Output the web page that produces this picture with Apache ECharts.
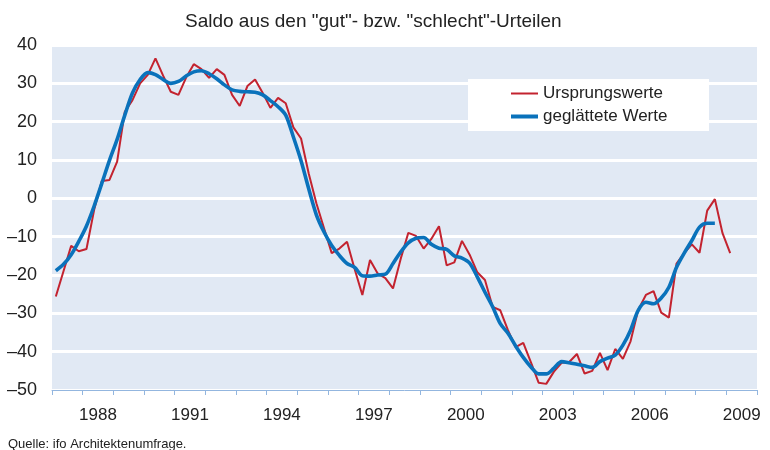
<!DOCTYPE html>
<html>
<head>
<meta charset="utf-8">
<script src="https://cdn.jsdelivr.net/npm/echarts@6/dist/echarts.min.js"></script>
<style>html,body{margin:0;padding:0;background:#fff;}#c{width:770px;height:450px;}</style>
</head>
<body>
<div id="c"></div>
<script>
// Years on the category axis (visual ticks and labels)
const years = ['1987','1988','1989','1990','1991','1992','1993','1994','1995','1996','1997','1998','1999','2000','2001','2002','2003','2004','2005','2006','2007','2008','2009'];
const firstYear = 1987;
// Quarterly values starting with 1987 Q1
const ursprungswerte = [
 -25.6, -19, -12.4, -13.8, -13.2, -3, 4.5, 4.8, 9.6, 22.6, 25.6, 30, 32.2, 36.5, 32, 27.8,
 27, 31.5, 35, 33.7, 31.4, 33.7, 32.2, 27, 24.1, 29.3, 31, 27.5, 23.6, 26.2, 24.8, 18.5,
 15.6, 6.5, -1.3, -7.8, -14.3, -13.1, -11.3, -18.5, -25.2, -16.1, -19.6, -20.8, -23.5, -15.8, -9, -9.8,
 -13.1, -10.6, -7.3, -17.5, -16.7, -11.1, -14.7, -19.3, -21.3, -28.3, -29.2, -34.4, -38.8, -37.7, -42.8, -48.1,
 -48.4, -45.2, -42.9, -42.7, -40.6, -45.7, -45, -40.3, -44.8, -39.3, -41.9, -37.3, -29.1, -25.2, -24.2, -29.8,
 -31.1, -17, -14.3, -12, -14.2, -3.2, -0.2, -9.1, -14.3
];
const geglaettet = [
 -18.9, -17.2, -14.7, -11.2, -7.2, -2, 3.9, 9.9, 15.4, 21.7, 27.5, 31, 32.8, 32.3, 31, 30,
 30.5, 31.9, 33, 33.3, 32.5, 31.2, 29.6, 28.3, 27.9, 27.8, 27.7, 27, 25.5, 23.9, 21.7, 16,
 9.8, 2.5, -4.3, -8.8, -12.3, -14.9, -17, -18, -20.2, -20.3, -20, -19.8, -17, -14, -11.6, -10.4,
 -10.2, -12, -13, -13.3, -15, -15.6, -16.9, -20.5, -24.5, -28.3, -32.7, -35.2, -38.5, -41.5, -44, -45.8,
 -45.8, -44.3, -42.6, -42.9, -43.3, -43.7, -44.1, -42.6, -41.7, -40.9, -38.3, -34.4, -29.2, -27.1, -27.5, -26,
 -23.2, -18, -14.3, -11, -7.5, -6.5, -6.5
];
const yTicks = [-50, -40, -30, -20, -10, 0, 10, 20, 30, 40];
const seriesNames = ['Ursprungswerte', 'geglättete Werte'];

function toPairs(arr) {
  return arr.map((v, i) => [firstYear + Math.floor(i / 4) + ((i % 4) + 0.5) / 4, v]);
}

const chart = echarts.init(document.getElementById('c'), null, {renderer: 'canvas'});
const font = "'Liberation Sans', Arial, sans-serif";
const red = '#c3232f', blue = '#0a72bb';
chart.setOption({
  animation: false,
  textStyle: {fontFamily: font},
  title: [
    {text: 'Saldo aus den "gut"- bzw. "schlecht"-Urteilen', left: 180, top: 7,
     textStyle: {fontSize: 19, fontWeight: 'normal', color: '#222', fontFamily: font}},
    {text: 'Quelle: ifo Architektenumfrage.', left: 3, top: 433,
     textStyle: {fontSize: 13, fontWeight: 'normal', color: '#222', fontFamily: font}}
  ],
  legend: [
    {orient: 'vertical', left: 468, top: 79, z: 4,
     backgroundColor: '#ffffff', padding: [6, 46, 29, 43],
     itemWidth: 27, itemHeight: 2, icon: 'rect',
     textStyle: {fontSize: 17, color: '#222', fontFamily: font},
     data: [{name: seriesNames[0], itemStyle: {color: red}}]},
    {orient: 'vertical', left: 511, top: 108, z: 5, padding: 0,
     itemWidth: 27, itemHeight: 4, icon: 'rect',
     textStyle: {fontSize: 17, color: '#222', fontFamily: font},
     data: [{name: seriesNames[1], itemStyle: {color: blue}}]}
  ],
  grid: {left: 52, right: 13, top: 45, bottom: 60, show: true, backgroundColor: '#e1e9f4', borderWidth: 0},
  xAxis: [
    {type: 'category', data: years, boundaryGap: true, position: 'bottom',
     axisLine: {onZero: false, lineStyle: {color: '#93b6df', width: 1}},
     axisTick: {show: true, length: 5, interval: 0, lineStyle: {color: '#93b6df'}},
     axisLabel: {interval: (i) => (i - 1) % 3 === 0, fontSize: 17, color: '#222', margin: 17, fontFamily: font},
     splitLine: {show: false}},
    {type: 'value', min: firstYear, max: firstYear + years.length, show: false}
  ],
  yAxis: {
    type: 'value', min: yTicks[0], max: yTicks[yTicks.length - 1], interval: 10,
    axisLine: {show: false}, axisTick: {show: false},
    axisLabel: {fontSize: 18, color: '#222', margin: 15, fontFamily: font,
                formatter: (v) => String(v).replace('-', '–')},
    splitLine: {show: true, lineStyle: {color: '#ffffff', width: 3}}
  },
  series: [
    {name: seriesNames[0], type: 'line', xAxisIndex: 1, data: toPairs(ursprungswerte),
     symbol: 'none', lineStyle: {color: red, width: 2}, itemStyle: {color: red}, z: 3},
    {name: seriesNames[1], type: 'line', xAxisIndex: 1, data: toPairs(geglaettet),
     symbol: 'none', smooth: 0.3, lineStyle: {color: blue, width: 3.6}, itemStyle: {color: blue}, z: 4}
  ]
});
</script>
</body>
</html>
